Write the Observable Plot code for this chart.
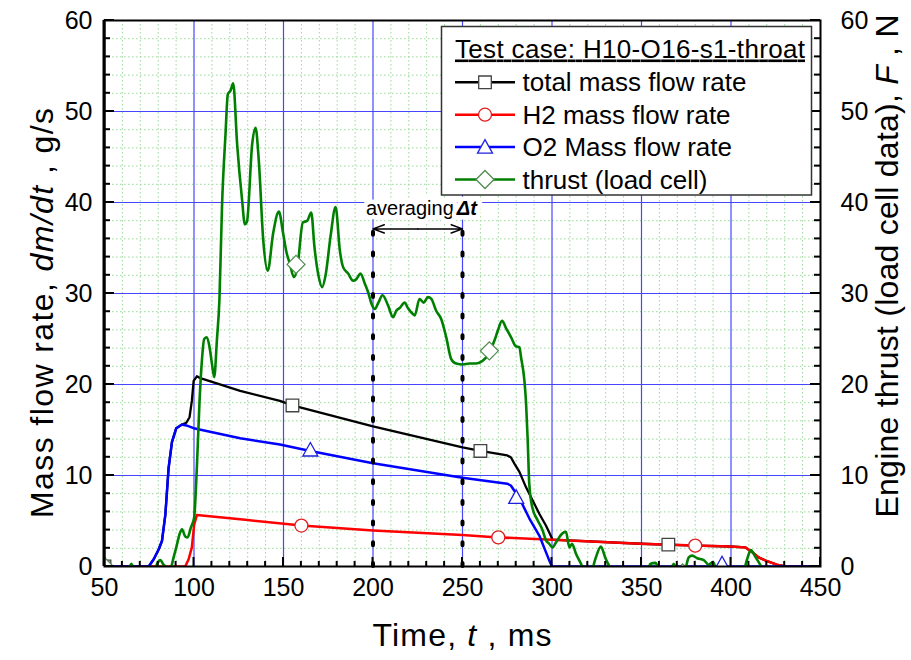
<!DOCTYPE html>
<html><head><meta charset="utf-8">
<script src="https://cdn.jsdelivr.net/npm/d3@7"></script>
<script src="https://cdn.jsdelivr.net/npm/@observablehq/plot@0.6"></script>
<style>body{margin:0;background:#fff;} svg{display:block;}</style>
</head><body><div id="chart"></div>
<script>
// ---------- data ----------
const xMajor = [50, 100, 150, 200, 250, 300, 350, 400, 450];
const xMinor = [60,70,80,90,110,120,130,140,160,170,180,190,210,220,230,240,260,270,280,290,310,320,330,340,360,370,380,390,410,420,430,440];
const yMajor = [0, 10, 20, 30, 40, 50, 60];
const yMinor = [2,4,6,8,12,14,16,18,22,24,26,28,32,34,36,38,42,44,46,48,52,54,56,58];

const seriesNames = ["total mass flow rate", "H2 mass flow rate", "O2 Mass flow rate", "thrust (load cell)"];
const legendTitle = "Test case: H10-O16-s1-throat";

// total mass flow rate (g/s)
const totalT = [50, 74.7, 77.5, 80.3, 82.1, 84, 85.8, 87.7, 90.1, 93.3, 95.7, 97.5, 98.8, 99.8, 101.6, 103.5, 125.8, 148, 155, 200, 250, 260, 275, 277, 279, 281.8, 285.5, 289.2, 292.9, 296.6, 298.8, 300.3, 349.5, 380, 399.7, 408, 411.7, 415.4, 420, 425.6, 430.5, 450];
const totalV = [0, 0, 0.8, 1.9, 2.8, 5.7, 10.8, 13.7, 15.2, 15.6, 15.8, 16.4, 18.2, 20.4, 20.9, 20.7, 19.3, 18.2, 17.7, 15.4, 13.1, 12.7, 12.2, 12.0, 11.3, 10.4, 8.7, 7.25, 5.8, 4.5, 3.6, 2.95, 2.5, 2.3, 2.2, 2.1, 1.6, 1.0, 0.6, 0.2, 0, 0];
// H2 mass flow rate (g/s)
const h2T = [50, 95.1, 97, 98.8, 100.1, 101.6, 130, 160, 200, 250, 270, 300, 349.5, 380, 399.7, 408, 411.7, 415.4, 420, 425.6, 430.5, 450];
const h2V = [0, 0, 0.8, 2.1, 4.6, 5.65, 5.1, 4.5, 3.96, 3.45, 3.2, 2.95, 2.5, 2.3, 2.2, 2.1, 1.6, 1.0, 0.6, 0.2, 0, 0];
// O2 mass flow rate (g/s)
const o2T = [50, 74.7, 77.5, 80.3, 82.1, 84, 85.8, 87.7, 90.1, 93.3, 95.7, 99.8, 125.8, 148, 165, 200, 250, 275, 277, 281.8, 287.3, 292.9, 298.4, 300, 450];
const o2V = [0, 0, 0.8, 1.9, 2.8, 5.7, 10.8, 13.7, 15.2, 15.6, 15.5, 15.2, 14.1, 13.4, 12.7, 11.35, 9.75, 9.1, 8.9, 7.5, 5.3, 3.4, 0.7, 0, 0];
// thrust (load cell), N
const thrustT = [50, 63, 65, 67, 78, 79.4, 81.2, 83, 86.8, 88.6, 90.1, 92, 93.3, 95.1, 96.4, 98.3, 100.1, 101.6, 103.1, 104.4, 105.7, 107.2, 108.7, 110, 111.3, 112.8, 114.2, 115.7, 117.6, 118.9, 120.4, 121.9, 124.1, 126.9, 128.4, 129.6, 132.5, 134.4, 136.2, 138.7, 141.2, 144.2, 147.4, 149.8, 151.7, 153.5, 155.8, 157.7, 160.8, 163.3, 165.5, 167.3, 169.5, 171.6, 173.5, 176.3, 179.1, 181.5, 183.3, 186.1, 188.9, 190.8, 193, 195.4, 197.5, 199.1, 201, 203, 205.3, 208.4, 211.2, 213, 214.9, 217.7, 219.5, 221.5, 223.3, 226, 228.3, 230.7, 232.6, 235.3, 238.1, 240.9, 243.7, 246.5, 250.2, 253.9, 257.6, 261.3, 264.6, 267.8, 269.7, 272.1, 274.3, 277.1, 279.8, 281.8, 282.7, 284.6, 285.5, 286.4, 287.3, 289, 291.9, 294.7, 296.6, 298.4, 300.3, 302.1, 304, 305.6, 307.8, 309.7, 311.2, 313.4, 316.2, 318, 322, 324.5, 327.3, 329.7, 331.9, 334, 353, 355.1, 357.8, 360, 366, 368, 370, 374, 376.4, 378.3, 381.1, 384.8, 387.5, 390, 392, 407, 409, 411, 413.8, 416.6, 418, 450];
const thrustV = [-0.4, -0.4, 0.3, -0.4, -0.4, 0.3, 0.7, 0.2, -0.2, 1.0, 2.1, 3.6, 4.1, 3.3, 3.2, 4.3, 5.4, 10.9, 18.2, 22.6, 25.0, 25.2, 24.1, 22.3, 20.8, 24.9, 29.3, 39.9, 47.5, 51.9, 52.3, 53.1, 46.4, 40.2, 37.6, 37.9, 46.4, 48.2, 44.6, 35.8, 32.5, 36.6, 39.0, 36.6, 34.5, 33.3, 31.8, 32.8, 37.8, 38.0, 38.9, 35.1, 32.0, 30.7, 32.0, 36.3, 39.5, 34.7, 32.9, 32.2, 31.4, 31.6, 32.2, 31.1, 30.0, 28.9, 28.3, 29.0, 29.8, 28.7, 27.4, 28.1, 28.4, 29.0, 28.4, 27.9, 27.6, 29.4, 29.0, 29.6, 29.4, 28.1, 27.2, 25.2, 22.8, 22.3, 22.2, 22.3, 22.3, 22.6, 23.4, 24.8, 25.9, 27.0, 26.2, 25.2, 24.2, 24.1, 23.0, 20.4, 18, 14, 9.1, 6.5, 5.1, 4.0, 2.9, 2.5, 2.1, 2.6, 3.2, 3.6, 3.8, 2.1, 2.5, 1.4, 0.3, -0.4, -0.4, 1.0, 2.2, 1.0, 0.1, -0.4, -0.4, 0.3, 0.4, -0.4, -0.4, 0.3, -0.4, -0.4, 1.0, 1.2, 0.9, 0.7, 0.2, 0.5, -0.4, -0.4, 0.8, 1.8, 1.0, 0.1, -0.4, -0.4];

// marker positions
const totalMarkT = [50, 155, 260, 365], totalMarkV = [0, 17.7, 12.7, 2.4];
const h2MarkT = [50, 160, 270, 380], h2MarkV = [0, 4.5, 3.2, 2.3];
const o2MarkT = [50, 165, 280, 395], o2MarkV = [0, 12.8, 7.6, 0.3];
const thrustMarkT = [50, 157, 265, 373], thrustMarkV = [0, 33.2, 23.7, -0.7];

// annotation: averaging window
const avgWindow = [200, 250];
const avgTop = 38.3;
const avgArrowY = 37.1;
const avgTextY = 39.3;

// ---------- build ----------
const FONT = "'Liberation Sans', Arial, Helvetica, sans-serif";
const zip = (T, V) => T.map((t, i) => ({t, v: V[i]}));
const total = zip(totalT, totalV), h2 = zip(h2T, h2V), o2 = zip(o2T, o2V), thrust = zip(thrustT, thrustV);
const totalM = zip(totalMarkT, totalMarkV), h2M = zip(h2MarkT, h2MarkV), o2M = zip(o2MarkT, o2MarkV), thrustM = zip(thrustMarkT, thrustMarkV);

const rad = size => Math.sqrt(size / Math.PI);
const sqSym = {draw(c, s) { const r = rad(s); c.rect(-r, -r, 2 * r, 2 * r); }};
const triSym = {draw(c, s) { const r = rad(s); c.moveTo(0, -r); c.lineTo(r, 0.8 * r); c.lineTo(-r, 0.8 * r); c.closePath(); }};
const diaSym = {draw(c, s) { const r = rad(s); c.moveTo(0, -r); c.lineTo(r, 0); c.lineTo(0, r); c.lineTo(-r, 0); c.closePath(); }};
const cirSym = {draw(c, s) { const r = rad(s); c.moveTo(r, 0); c.arc(0, 0, r, 0, 2 * Math.PI); }};

const colors = ["#000000", "#ff0000", "#0000ff", "#008000"];
const mStroke = ["#444444", "#e02020", "#2020e0", "#4f8a4f"];
const syms = [sqSym, cirSym, triSym, diaSym];
const symR = [6.3, 6.5, 7.5, 9];

const avgMid = (avgWindow[0] + avgWindow[1]) / 2;
const arrows = [{x1: avgMid, x2: avgWindow[0]}, {x1: avgMid, x2: avgWindow[1]}];

const gridMinor = {stroke: "#9ad89a", strokeOpacity: 1, strokeWidth: 1, strokeDasharray: "1.5,2.5"};
const gridMajor = {stroke: "#4646ff", strokeOpacity: 1, strokeWidth: 1.2};

const chart = Plot.plot({
  width: 911, height: 660,
  marginLeft: 104, marginRight: 91, marginTop: 20, marginBottom: 94,
  x: {domain: [50, 450]},
  y: {domain: [0, 60]},
  style: {fontFamily: FONT, fontSize: "25px", color: "#000", background: "#fff", overflow: "visible"},
  marks: [
    Plot.gridX(xMinor, gridMinor),
    Plot.gridY(yMinor, gridMinor),
    Plot.gridX(xMajor.slice(1, -1), gridMajor),
    Plot.gridY(yMajor.slice(1, -1), gridMajor),
    Plot.text(["averaging"], {x: avgMid, y: avgTextY, text: d => d, textAnchor: "end", dx: 36, fontSize: 20, fill: "#000", stroke: "#fff", strokeWidth: 9, paintOrder: "stroke"}),
    Plot.text(["Δt"], {x: avgMid, y: avgTextY, text: d => d, textAnchor: "start", dx: 39, fontSize: 20, fontStyle: "italic", fontWeight: "bold", fill: "#000", stroke: "#fff", strokeWidth: 9, paintOrder: "stroke"}),
    Plot.line(total, {x: "t", y: "v", stroke: colors[0], strokeWidth: 2.3, clip: true}),
    Plot.line(h2, {x: "t", y: "v", stroke: colors[1], strokeWidth: 2.5, clip: true}),
    Plot.line(o2, {x: "t", y: "v", stroke: colors[2], strokeWidth: 2.5, clip: true}),
    Plot.line(thrust, {x: "t", y: "v", stroke: colors[3], strokeWidth: 2.6, curve: "monotone-x", clip: true}),
    Plot.ruleX(avgWindow, {y1: 0, y2: avgTop, stroke: "#000", strokeWidth: 4, strokeDasharray: "3,17.7", strokeLinecap: "round"}),
    Plot.arrow(arrows, {x1: "x1", x2: "x2", y1: avgArrowY, y2: avgArrowY, stroke: "#000", strokeWidth: 1.5, headLength: 12, headAngle: 40}),
    Plot.dot(totalM, {x: "t", y: "v", symbol: syms[0], r: symR[0], fill: "#fff", stroke: mStroke[0], strokeWidth: 1.3, clip: true}),
    Plot.dot(h2M, {x: "t", y: "v", symbol: syms[1], r: symR[1], fill: "#fff", stroke: mStroke[1], strokeWidth: 1.3, clip: true}),
    Plot.dot(o2M, {x: "t", y: "v", symbol: syms[2], r: symR[2], fill: "#fff", stroke: mStroke[2], strokeWidth: 1.3, clip: true}),
    Plot.dot(thrustM, {x: "t", y: "v", symbol: syms[3], r: symR[3], fill: "#fff", stroke: mStroke[3], strokeWidth: 1.2, clip: true}),
    Plot.axisX({ticks: xMajor, anchor: "bottom", tickSize: 0, tickPadding: 12, label: null, fontSize: 25}),
    Plot.axisY({ticks: yMajor, anchor: "left", tickSize: 0, tickPadding: 12, label: null, fontSize: 25}),
    Plot.axisY({ticks: yMajor, anchor: "right", tickSize: 0, tickPadding: 20, label: null, fontSize: 25}),
    Plot.frame({stroke: "#000", strokeWidth: 2})
  ]
});
document.getElementById("chart").appendChild(chart);

// ---------- inward ticks (through the plot's own scales) ----------
const svg = d3.select(chart);
const sx = chart.scale("x"), sy = chart.scale("y");
const X0 = sx.apply(50), X1 = sx.apply(450), Y0 = sy.apply(0), Y1 = sy.apply(60);
const tg = svg.append("g").attr("stroke", "#000").attr("stroke-width", 2);
xMajor.forEach(v => tg.append("line").attr("x1", sx.apply(v)).attr("x2", sx.apply(v)).attr("y1", Y0).attr("y2", Y0 - 9));
xMinor.forEach(v => tg.append("line").attr("x1", sx.apply(v)).attr("x2", sx.apply(v)).attr("y1", Y0).attr("y2", Y0 - 5));
yMajor.forEach(v => {
  tg.append("line").attr("x1", X0).attr("x2", X0 + 10).attr("y1", sy.apply(v)).attr("y2", sy.apply(v));
  tg.append("line").attr("x1", X1).attr("x2", X1 - 10).attr("y1", sy.apply(v)).attr("y2", sy.apply(v));
});
yMinor.forEach(v => {
  tg.append("line").attr("x1", X0).attr("x2", X0 + 6).attr("y1", sy.apply(v)).attr("y2", sy.apply(v));
  tg.append("line").attr("x1", X1).attr("x2", X1 - 6).attr("y1", sy.apply(v)).attr("y2", sy.apply(v));
});
svg.append("line").attr("x1", X0).attr("x2", X0).attr("y1", Y1).attr("y2", Y0).attr("stroke", "#000").attr("stroke-width", 3);

// ---------- titles & legend ----------
function richText(g, parts) {
  parts.forEach(p => g.append("tspan").style("font-style", p.i ? "italic" : "normal").text(p.s));
}
const tX = svg.append("text").attr("x", (X0 + X1) / 2).attr("y", 646).attr("text-anchor", "middle")
  .attr("font-family", FONT).attr("font-size", 32).attr("fill", "#000")
  .attr("textLength", 179).attr("lengthAdjust", "spacing");
richText(tX, [{s: "Time, "}, {s: "t", i: true}, {s: " , ms"}]);
const tL = svg.append("text").attr("transform", "translate(53,313) rotate(-90)").attr("text-anchor", "middle")
  .attr("font-family", FONT).attr("font-size", 32).attr("fill", "#000")
  .attr("textLength", 410).attr("lengthAdjust", "spacing");
richText(tL, [{s: "Mass flow rate, "}, {s: "dm/dt", i: true}, {s: " , g/s"}]);
const tR = svg.append("text").attr("transform", "translate(898,266) rotate(-90)").attr("text-anchor", "middle")
  .attr("font-family", FONT).attr("font-size", 32).attr("fill", "#000")
  .attr("textLength", 503).attr("lengthAdjust", "spacing");
richText(tR, [{s: "Engine thrust (load cell data), "}, {s: "F", i: true}, {s: " , N"}]);

const lg = svg.append("g").attr("font-family", FONT).attr("fill", "#000").attr("text-anchor", "start");
lg.append("rect").attr("x", 441.5).attr("y", 26.5).attr("width", 370).attr("height", 168.5)
  .attr("fill", "#fff").attr("stroke", "#333").attr("stroke-width", 1.5);
lg.append("text").attr("x", 455).attr("y", 57.5).attr("font-size", 26).attr("text-anchor", "start")
  .attr("textLength", 350).attr("lengthAdjust", "spacing")
  .style("text-decoration", "underline").text(legendTitle);
seriesNames.forEach((name, i) => {
  const yy = 82.3 + i * 32.4;
  lg.append("line").attr("x1", 455).attr("x2", 515).attr("y1", yy).attr("y2", yy)
    .attr("stroke", colors[i]).attr("stroke-width", 2.5);
  lg.append("path").attr("transform", `translate(485,${yy})`)
    .attr("d", d3.symbol(syms[i], Math.PI * symR[i] * symR[i])())
    .attr("fill", "#fff").attr("stroke", mStroke[i]).attr("stroke-width", 1.3);
  lg.append("text").attr("x", 522.5).attr("y", yy + 9).attr("font-size", 26).attr("text-anchor", "start").text(name);
});
</script>
</body></html>
